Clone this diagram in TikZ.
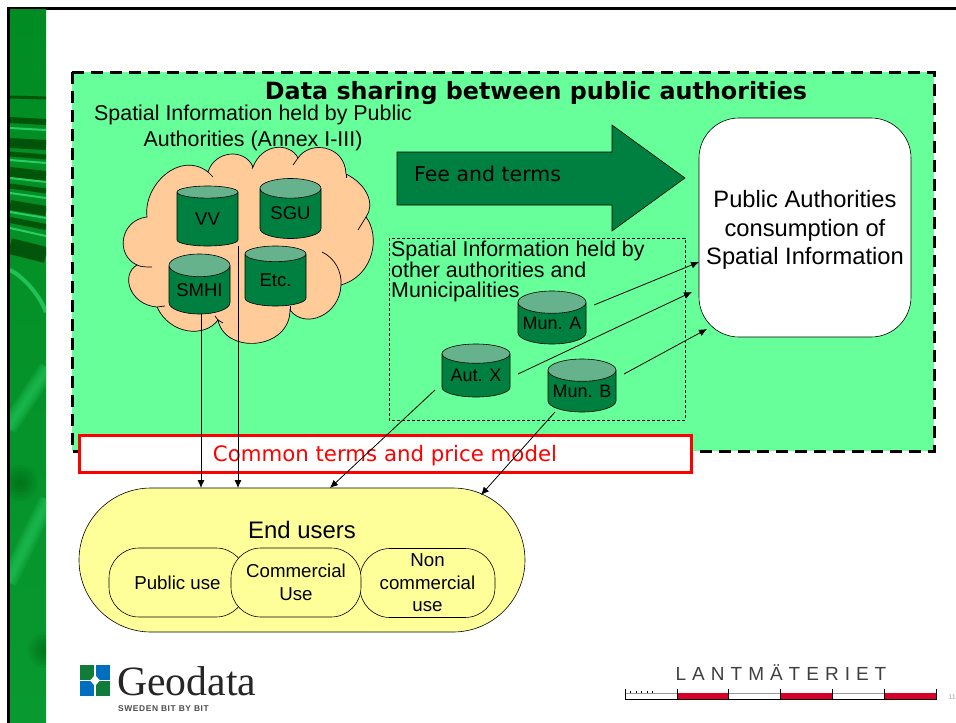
\documentclass[tikz,border=0pt]{standalone}
\usepackage{fontspec}
\setmainfont{Liberation Sans}
\newfontfamily\verdanafont{DejaVu Sans}
\newfontfamily\logofont{Liberation Serif}
\usetikzlibrary{shapes.geometric,arrows.meta}
\definecolor{areagreen}{RGB}{102,255,153}
\definecolor{dbgreen}{RGB}{0,128,64}
\definecolor{dbtop}{RGB}{102,178,140}
\definecolor{cloudfill}{RGB}{255,204,153}
\definecolor{userfill}{RGB}{255,255,153}
\definecolor{stripbase}{RGB}{0,140,35}
\definecolor{stripdark}{RGB}{0,75,5}
\definecolor{striplight}{RGB}{40,205,100}
\definecolor{scalered}{RGB}{215,0,40}
\definecolor{logogreen}{RGB}{15,125,55}
\definecolor{logoblue}{RGB}{0,110,190}
\tikzset{
  dbcyl/.style={cylinder,shape border rotate=90,draw=black,line width=0.6pt,aspect=0.49,
    cylinder uses custom fill,cylinder body fill=dbgreen,cylinder end fill=dbtop,anchor=shape center,
    minimum width=61pt,minimum height=60pt,inner sep=0pt,font=\fontsize{18.5}{20}\selectfont},
  dbwide/.style={dbcyl,aspect=0.38,minimum width=68pt,minimum height=53pt,font=\fontsize{18}{20}\selectfont},
  usepill/.style={draw=black,line width=0.6pt,fill=userfill,rounded corners=30pt,
    minimum height=69pt,align=center,inner sep=0pt,font=\fontsize{18.7}{22.5}\selectfont},
  linkarrow/.style={draw=black,line width=0.8pt,-{Latex[length=8pt,width=7pt]}},
}
\begin{document}
\begin{tikzpicture}[x=1pt,y=-1pt]
	%%%%% START %%%%%
	\useasboundingbox (0,0) rectangle (956,723);
	\fill[white] (0,0) rectangle (956,723);

	% slide frame and green strip
	\fill[black] (7,7) rectangle (956,9.5);
	\fill[black] (7,7) rectangle (10,723);
	\begin{scope}
		\clip (10,9.5) rectangle (46,723);
		\shade[top color=stripbase,bottom color=stripbase!80!striplight] (10,9) rectangle (46,723);
		\foreach \yy/\ww/\dd in {97/3/1,120/6/2,143/10/2,154/5/3,172/10/4,186/5/5,205/10/6,220/6/7,246/16/9}
			\draw[line width=\ww pt,color=stripdark,opacity=0.85] (10,\yy) -- (46,\yy+\dd);
		\foreach \yy/\dd in {128/2,160/3,178/4,193/5,212/6,228/8}
			\draw[line width=2pt,color=striplight] (10,\yy) -- (46,\yy+\dd);
		\draw[line width=4pt,color=striplight,opacity=0.8] (10,270) .. controls (22,276) and (38,292) .. (46,312);
		\foreach \ww in {3,6,9,12,15,18} {
			\draw[line width=\ww pt,color=striplight,opacity=0.14] (8,428) -- (48,368);
			\draw[line width=\ww pt,color=striplight,opacity=0.14] (8,582) -- (48,500);
			\fill[stripdark,opacity=0.08] (20,483) circle (\ww pt);
			\fill[stripdark,opacity=0.08] (46,650) circle (\ww pt);
		}
	\end{scope}

	% data sharing area
	\fill[areagreen] (72,72) rectangle (934,451);
	\draw[line width=3pt,dash pattern=on 12pt off 7pt] (72,72) rectangle (934,451);
	\node[font=\verdanafont\bfseries\fontsize{23.8}{26}\selectfont,inner sep=0pt] (title) at (536,93.5) {Data sharing between public authorities};
	\node[inner sep=0pt,align=center,font=\fontsize{21.4}{25.5}\selectfont] (heldpublic) at (253,128) {Spatial Information held by Public\\Authorities (Annex I-III)};

	% cloud
	\draw[fill=cloudfill,line width=0.7pt] (147,217)
		.. controls (143,185) and (180,150) .. (208,172)
		.. controls (215,150) and (245,148) .. (253,167)
		.. controls (262,143) and (290,142) .. (298,158)
		.. controls (310,140) and (345,145) .. (346,174)
		.. controls (368,185) and (375,205) .. (366,217)
		.. controls (380,235) and (375,275) .. (341,285)
		.. controls (340,315) and (305,330) .. (290,310)
		.. controls (290,350) and (225,355) .. (218,320)
		.. controls (205,338) and (170,335) .. (157,307)
		.. controls (130,305) and (120,275) .. (137,265)
		.. controls (115,255) and (120,220) .. (147,217) -- cycle;
	\draw[line width=0.7pt] (207,171) -- (213,177);
	\draw[line width=0.7pt] (253,165) -- (252,169);
	\draw[line width=0.7pt] (298,158) -- (293,165);
	\draw[line width=0.7pt] (346,174) -- (346,178);
	\draw[line width=0.7pt] (366,217) -- (358,230);
	\draw[line width=0.7pt] (322,252) .. controls (335,258) and (342,272) .. (341,285);
	\draw[line width=0.7pt] (290,310) -- (290,306);
	\draw[line width=0.7pt] (218,320) -- (223,323);
	\draw[line width=0.7pt] (218,320) -- (215,316);
	\draw[line width=0.7pt] (157,307) -- (165,306);
	\draw[line width=0.7pt] (137,265) .. controls (141,267) and (146,267) .. (152,267);

	\node[dbcyl] (vv) at (207.5,216) {VV};
	\node[dbcyl] (sgu) at (290.5,208.5) {SGU};
	\node[dbcyl] (smhi) at (199.5,284) {SMHI};
	\node[dbcyl] (etc) at (275.5,276) {Etc.};

	% fee arrow
	\draw[fill=dbgreen,line width=0.6pt] (397,152) -- (612,152) -- (612,125) -- (685,178) -- (612,231) -- (612,205) -- (397,205) -- cycle;
	\node[font=\verdanafont\fontsize{20.5}{24}\selectfont,inner sep=0pt,anchor=west] (fee) at (414,174) {Fee and terms};

	% consumers
	\node[draw=black,line width=0.6pt,fill=white,rounded corners=40pt,minimum width=212pt,minimum height=219pt] (consumers) at (805,227.5) {};
	\node[align=center,inner sep=0pt,font=\fontsize{23.7}{28.5}\selectfont] (consumerstext) at (805,230) {Public Authorities\\consumption of\\Spatial Information};

	% other authorities
	\draw[densely dashed,line width=0.6pt] (389,238) rectangle (685,420);
	\node[inner sep=0pt,align=left,anchor=north west,font=\fontsize{21.4}{19.5}\selectfont] (heldother) at (391,241) {Spatial Information held by\\other authorities and\\Municipalities};
	\node[dbwide] (muna) at (552,317.5) {Mun. A};
	\node[dbwide] (autx) at (476,370.5) {Aut. X};
	\node[dbwide] (munb) at (582,385.5) {Mun. B};

	% end users
	\node[draw=black,line width=0.6pt,fill=userfill,rounded corners=72pt,minimum width=446pt,minimum height=144pt] (endusers) at (302,560) {};
	\node[font=\fontsize{23.9}{26}\selectfont,inner sep=0pt] (endlabel) at (302,530) {End users};
	\node[usepill,minimum width=137pt] (publicuse) at (177.5,582.5) {Public use};
	\node[usepill,minimum width=135pt] (noncomm) at (427.5,583) {Non\\commercial\\use};
	\node[usepill,minimum width=130pt] (commercial) at (296,582.5) {Commercial\\Use};

	% terms bar
	\node[draw=red,line width=3pt,fill=white,minimum width=612pt,minimum height=37pt,inner sep=0pt] (terms) at (385.5,454) {};
	\node[font=\verdanafont\fontsize{21.3}{24}\selectfont,text=red,inner sep=0pt] (termstext) at (385,455.5) {Common terms and price model};

	% connectors
	\coordinate (smhifoot) at (201,314);
	\coordinate (vvfoot) at (238,246);
	\coordinate (smhiend) at (201,488);
	\coordinate (vvend) at (238,488);
	\coordinate (autxend) at (330,488);
	\coordinate (munbend) at (481,495);
	\coordinate (autxfoot) at (435,390);
	\coordinate (munbfoot) at (555,412);
	\coordinate (munaout) at (594,305);
	\coordinate (autxout) at (518,374);
	\coordinate (munbout) at (624,374);
	\coordinate (munatip) at (699,262);
	\coordinate (autxtip) at (692,292);
	\coordinate (munbtip) at (707,329);
	\draw[linkarrow] (smhifoot) -- (smhiend);
	\draw[linkarrow] (vvfoot) -- (vvend);
	\draw[linkarrow] (autxfoot) -- (autxend);
	\draw[linkarrow] (munbfoot) -- (munbend);
	\draw[linkarrow] (munaout) -- (munatip);
	\draw[linkarrow] (autxout) -- (autxtip);
	\draw[linkarrow] (munbout) -- (munbtip);

	% geodata logo
	\fill[logogreen] (80,665) rectangle (95,680);
	\fill[logoblue] (95,665) rectangle (110,680);
	\fill[logoblue] (80,680) rectangle (95,696);
	\fill[logogreen] (95,680) rectangle (110,696);
	\fill[white] (95,675) -- (100,680.5) -- (95,686) -- (90,680.5) -- cycle;
	\draw[white,line width=1.5pt] (95,665) -- (95,696) (80,680.5) -- (110,680.5);
	\node[font=\logofont\fontsize{41.7}{42}\selectfont,text=black!85,inner sep=0pt,anchor=base west,text depth=0pt] (geodata) at (117,695) {Geodata};
	\node[font=\bfseries\fontsize{8.4}{9}\selectfont,text=black!70,inner sep=0pt,anchor=base west] (slogan) at (118,711) {S\hspace{0.6pt}W\hspace{0.6pt}E\hspace{0.6pt}D\hspace{0.6pt}E\hspace{0.6pt}N\hspace{3pt}B\hspace{0.6pt}I\hspace{0.6pt}T\hspace{3pt}B\hspace{0.6pt}Y\hspace{3pt}B\hspace{0.6pt}I\hspace{0.6pt}T};

	% lantmateriet logo
	\node[font=\fontsize{19}{20}\selectfont,text=black!75,inner sep=0pt] (lantm) at (781,673) {L\hspace{6pt}A\hspace{6pt}N\hspace{6pt}T\hspace{6pt}M\hspace{6pt}Ä\hspace{6pt}T\hspace{6pt}E\hspace{6pt}R\hspace{6pt}I\hspace{6pt}E\hspace{6pt}T};
	\foreach \xa/\xb in {677/729,780/832,884/936}
		\fill[scalered] (\xa,693) rectangle (\xb,699);
	\foreach \xa/\xb in {625/677,729/780,832/884}
		\draw[black!40,line width=1pt] (\xa,693.5) -- (\xb,693.5);
	\draw[black,line width=1pt] (625,699.5) -- (936,699.5);
	\foreach \xx in {625,677,728,780,832,884,936}
		\draw[black,line width=0.6pt] (\xx,689) -- (\xx,700);
	\foreach \xx in {630,636,641,647,652}
		\draw[black,line width=0.6pt] (\xx,691) -- (\xx,693);
	\node[font=\fontsize{7}{8}\selectfont,text=black!35,inner sep=0pt] (pagenum) at (952,697) {11};
	%%%%% END %%%%%
\end{tikzpicture}
\end{document}
